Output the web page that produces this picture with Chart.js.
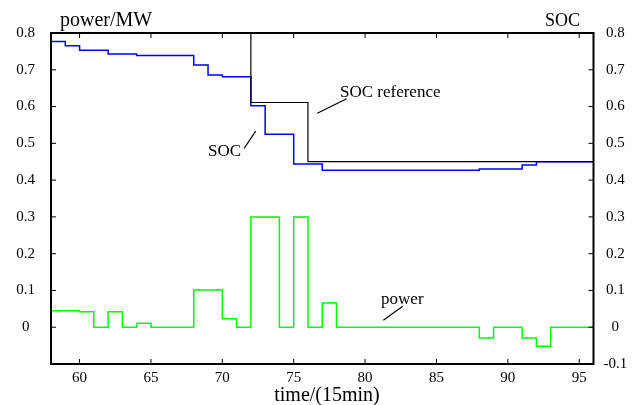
<!DOCTYPE html>
<html lang="en">
<head>
<meta charset="UTF-8">
<title>power / SOC</title>
<script src="https://cdn.jsdelivr.net/npm/chart.js"></script>
<style>
  html, body { margin: 0; padding: 0; background: #fff; }
  #wrap { width: 642px; height: 405px; }
</style>
</head>
<body>
<div id="wrap"><canvas id="myCanvas" width="642" height="405"></canvas></div>

<script>
// time steps (15 min) where each level starts
const refTime = [57, 72, 76, 96];
const refSoc = [1.0, 0.611, 0.450, 0.450];

const socTime = [57, 58, 59, 60, 62, 64, 68, 69, 70, 72, 73, 75, 77, 88, 91, 92, 96];
const socVals = [0.80, 0.777, 0.765, 0.753, 0.743, 0.739, 0.713, 0.686, 0.681, 0.602, 0.525, 0.444, 0.427, 0.430, 0.441, 0.450, 0.450];

const powerTime = [58, 60, 61, 62, 63, 64, 65, 68, 70, 71, 72, 74, 75, 76, 77, 78, 88, 89, 91, 92, 93, 96];
const powerVals = [0.045, 0.042, 0, 0.042, 0, 0.011, 0, 0.101, 0.023, 0, 0.3, 0, 0.3, 0, 0.066, 0, -0.029, 0, -0.029, -0.052, 0, 0];

const yTicks = [-0.1, 0, 0.1, 0.2, 0.3, 0.4, 0.5, 0.6, 0.7, 0.8];
const xTicks = [60, 65, 70, 75, 80, 85, 90, 95];

const serif = "'Liberation Serif', 'DejaVu Serif', serif";

function pts(xs, ys) {
  return xs.map((x, i) => ({ x: x, y: ys[i] }));
}

function fmt(v) {
  if (Math.abs(v) < 1e-9) return "0";
  return v.toFixed(1);
}

// ticks pointing inwards, frame and the text labels
const extras = {
  id: "extras",
  afterDraw(chart) {
    const { ctx, chartArea: a, scales } = chart;
    const x = scales.x, y = scales.y;
    const X = v => x.getPixelForValue(v);
    const Y = v => y.getPixelForValue(v);
    function line(x1, y1, x2, y2) {
      ctx.beginPath();
      ctx.moveTo(x1, y1);
      ctx.lineTo(x2, y2);
      ctx.stroke();
    }
    ctx.save();
    ctx.strokeStyle = "#000";
    ctx.lineWidth = 1;
    xTicks.forEach(t => {
      line(X(t), a.bottom, X(t), a.bottom - 5);
      line(X(t), a.top, X(t), a.top + 5);
    });
    yTicks.forEach(t => {
      line(a.left, Y(t), a.left + 5, Y(t));
      line(a.right, Y(t), a.right - 5, Y(t));
    });
    ctx.lineWidth = 2;
    ctx.strokeRect(a.left, a.top, a.width, a.height);

    ctx.fillStyle = "#000";
    ctx.textBaseline = "alphabetic";
    ctx.textAlign = "left";
    ctx.font = "20px " + serif;
    ctx.fillText("power/MW", 60, 26);
    ctx.textAlign = "right";
    ctx.font = "18px " + serif;
    ctx.fillText("SOC", 580, 26);
    ctx.textAlign = "center";
    ctx.font = "20px " + serif;
    ctx.fillText("time/(15min)", 327, 401);

    ctx.textAlign = "left";
    ctx.font = "17px " + serif;
    ctx.fillText("SOC reference", X(78.24), Y(0.627));
    ctx.fillText("SOC", X(69.0), Y(0.466));
    ctx.fillText("power", X(81.12), Y(0.062));
    ctx.lineWidth = 1.2;
    line(X(76.65), Y(0.582), X(78.71), Y(0.621));
    line(X(71.52), Y(0.486), X(72.34), Y(0.533));
    line(X(81.28), Y(0.019), X(82.64), Y(0.057));
    ctx.restore();
  }
};

const config = {
  type: "line",
  data: {
    datasets: [
      {
        label: "SOC reference",
        data: pts(refTime, refSoc),
        yAxisID: "y2",
        borderColor: "#000000",
        borderWidth: 1.2,
        stepped: true,
        pointRadius: 0,
        fill: false
      },
      {
        label: "SOC",
        data: pts(socTime, socVals),
        yAxisID: "y2",
        borderColor: "#0000ff",
        borderWidth: 1.5,
        stepped: true,
        pointRadius: 0,
        fill: false
      },
      {
        label: "power",
        data: pts(powerTime, powerVals),
        yAxisID: "y",
        borderColor: "#00ff00",
        borderWidth: 1.5,
        stepped: true,
        pointRadius: 0,
        fill: false
      }
    ]
  },
  options: {
    responsive: false,
    animation: false,
    layout: { padding: { top: 33, left: 0, right: 0, bottom: 0 } },
    plugins: {
      legend: { display: false },
      tooltip: { enabled: false }
    },
    scales: {
      x: {
        type: "linear",
        min: 58,
        max: 96,
        grid: { display: false, drawTicks: false },
        border: { display: false },
        afterFit(s) { s.height = 41; },
        ticks: {
          stepSize: 5,
          includeBounds: false,
          padding: 5,
          color: "#000",
          font: { family: serif, size: 15 }
        }
      },
      y: {
        position: "left",
        min: -0.1,
        max: 0.8,
        grid: { display: false, drawTicks: false },
        border: { display: false },
        afterFit(s) { s.width = 51; },
        ticks: {
          stepSize: 0.1,
          includeBounds: false,
          crossAlign: "center",
          padding: 16,
          color: "#000",
          font: { family: serif, size: 15 },
          callback: v => (v < -0.05 ? "" : fmt(v))
        }
      },
      y2: {
        position: "right",
        min: -0.1,
        max: 0.8,
        grid: { display: false, drawTicks: false },
        border: { display: false },
        afterFit(s) { s.width = 48.5; },
        ticks: {
          stepSize: 0.1,
          includeBounds: false,
          crossAlign: "center",
          padding: 10,
          color: "#000",
          font: { family: serif, size: 15 },
          callback: v => fmt(v)
        }
      }
    }
  },
  plugins: [extras]
};

const myChart = new Chart(document.getElementById("myCanvas"), config);
</script>
</body>
</html>
